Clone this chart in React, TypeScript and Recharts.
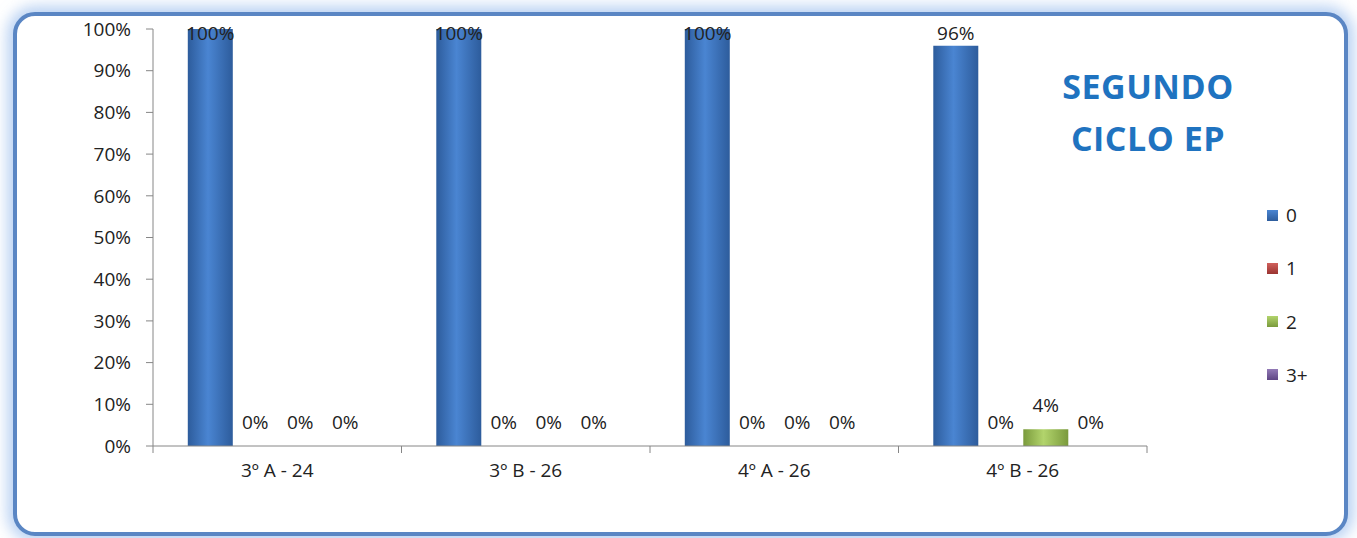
import { BarChart, Bar, XAxis, YAxis } from 'recharts';

const categories = ['3º A - 24', '3º B - 26', '4º A - 26', '4º B - 26'];
const serie0 = [100, 100, 100, 96];
const serie1 = [0, 0, 0, 0];
const serie2 = [0, 0, 0, 4];
const serie3 = [0, 0, 0, 0];
const seriesNames = ['0', '1', '2', '3+'];
const yTicks = [0, 10, 20, 30, 40, 50, 60, 70, 80, 90, 100];

const data = categories.map((name, i) => ({
  name,
  s0: serie0[i],
  s1: serie1[i],
  s2: serie2[i],
  s3: serie3[i],
}));

const keys = ['s0', 's1', 's2', 's3'];
const colors = [
  { edge: '#2d5c9c', mid: '#4a85d2' },
  { edge: '#9a3431', mid: '#d0605c' },
  { edge: '#7a9a3c', mid: '#b2d46c' },
  { edge: '#5f4684', mid: '#927ab6' },
];

const W = 1357;
const H = 538;
const PLOT_LEFT = 153;
const PLOT_RIGHT = 1147;
const PLOT_TOP = 29;
const PLOT_BOTTOM = 446;
const BAND = (PLOT_RIGHT - PLOT_LEFT) / categories.length;
const FONT = '"Open Sans", sans-serif';
const FS = 19;

const renderLabel = (props: any) => {
  const { x, y, width, value } = props;
  const cy = Math.max(Number(y) - 24, 33);
  return (
    <text
      x={Number(x) + Number(width) / 2}
      y={cy}
      textAnchor="middle"
      dominantBaseline="central"
      fontSize={FS}
      fontFamily={FONT}
      fill="#222"
    >
      {`${value}%`}
    </text>
  );
};

const XTick = (props: any) => {
  const { x, y, payload, index } = props;
  const left = x - BAND / 2;
  return (
    <g>
      <line x1={left} x2={left} y1={PLOT_BOTTOM} y2={PLOT_BOTTOM + 7} stroke="#868686" />
      {index === categories.length - 1 && (
        <line x1={left + BAND} x2={left + BAND} y1={PLOT_BOTTOM} y2={PLOT_BOTTOM + 7} stroke="#868686" />
      )}
      <text x={x} y={y + 23} textAnchor="middle" fontSize={FS} fontFamily={FONT} fill="#222">
        {payload.value}
      </text>
    </g>
  );
};

export default function App() {
  return (
    <div style={{ position: 'absolute', left: 0, top: 0, width: W, height: H, background: '#fff', overflow: 'hidden' }}>
      <div
        style={{
          position: 'absolute',
          left: 13,
          top: 12,
          width: 1327,
          height: 516,
          border: '4px solid #5a86c4',
          borderRadius: 22,
          boxShadow: '0 0 14px 6px rgba(140,180,235,0.6)',
          background: '#fff',
        }}
      />
      <div style={{ position: 'absolute', left: 0, top: 0 }}>
        <BarChart
          width={W}
          height={H}
          data={data}
          margin={{ top: PLOT_TOP, right: W - PLOT_RIGHT, bottom: H - PLOT_BOTTOM - 30, left: PLOT_LEFT - 60 }}
          barGap={0}
          barCategoryGap="14%"
        >
          <defs>
            {colors.map((c, i) => (
              <linearGradient key={i} id={`g${i}`} x1="0" y1="0" x2="1" y2="0">
                <stop offset="0%" stopColor={c.edge} />
                <stop offset="45%" stopColor={c.mid} />
                <stop offset="100%" stopColor={c.edge} />
              </linearGradient>
            ))}
          </defs>
          <XAxis
            dataKey="name"
            height={30}
            stroke="#868686"
            tickLine={false}
            tick={<XTick />}
            interval={0}
          />
          <YAxis
            width={60}
            domain={[0, 100]}
            ticks={yTicks}
            interval={0}
            stroke="#868686"
            tickSize={7}
            tickMargin={15}
            tickFormatter={(v) => `${v}%`}
            tick={{ fontSize: FS, fontFamily: FONT, fill: '#222' }}
          />
          {keys.map((k, i) => (
            <Bar
              key={k}
              dataKey={k}
              fill={`url(#g${i})`}
              isAnimationActive={false}
              minPointSize={0.01}
              label={renderLabel}
            />
          ))}
        </BarChart>
      </div>
      <div
        style={{
          position: 'absolute',
          left: 1148,
          top: 60,
          transform: 'translateX(-50%)',
          textAlign: 'center',
          color: '#1f73c0',
          fontFamily: FONT,
          fontWeight: 700,
          fontSize: 34,
          letterSpacing: 0.5,
          lineHeight: '52px',
          whiteSpace: 'nowrap',
        }}
      >
        SEGUNDO
        <br />
        CICLO EP
      </div>
      {seriesNames.map((n, i) => (
        <div
          key={n}
          style={{
            position: 'absolute',
            left: 1267,
            top: 215 + i * 53.3 - 12,
            height: 24,
            display: 'flex',
            alignItems: 'center',
            fontFamily: FONT,
            fontSize: FS,
            color: '#222',
          }}
        >
          <span
            style={{
              display: 'inline-block',
              width: 11,
              height: 11,
              marginRight: 8,
              background: `linear-gradient(to bottom, ${colors[i].mid}, ${colors[i].edge})`,
            }}
          />
          {n}
        </div>
      ))}
    </div>
  );
}
